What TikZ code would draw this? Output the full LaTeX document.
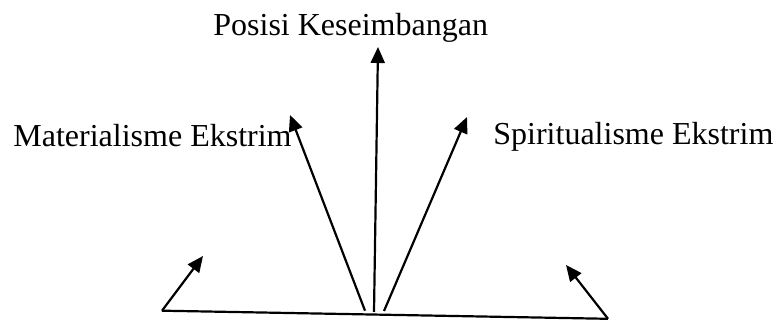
\documentclass[tikz,border=0pt]{standalone}
\usepackage{fontspec}
\setmainfont{Liberation Serif}
\usepackage{tikz}
\usetikzlibrary{arrows.meta,positioning}
\usepackage{xcolor}
\definecolor{inkblack}{RGB}{0,0,0}
\tikzset{
    caption/.style={
        anchor=base west,inner sep=0pt,text=inkblack,
        font=\fontsize{16pt}{19pt}\selectfont
    },
    pointer/.style={
        -{Triangle[length=8pt,width=7pt]},line width=1.1pt,draw=inkblack
    },
    baseline/.style={
        line width=1.1pt,draw=inkblack
    }
}
\begin{document}
\begin{tikzpicture}[x=0.5pt,y=0.5pt]
\useasboundingbox (0,0) rectangle (776,320);

% labels
\node[caption] (posisi) at (213,284) {Posisi Keseimbangan};
\node[caption] (materialisme) at (13,173.3) {Materialisme Ekstrim};
\node[caption] (spiritualisme) at (493,175) {Spiritualisme Ekstrim};

% base line
\coordinate (kiri) at (162,9.3);
\coordinate (kanan) at (608,1.2);
\draw[baseline] (kiri) -- (kanan);

% feet and tips
\coordinate (kakiA) at (365,9.3);
\coordinate (kakiB) at (374,8);
\coordinate (kakiC) at (384,9);
\coordinate (ujungA) at (290,205);
\coordinate (ujungB) at (378,273);
\coordinate (ujungC) at (467,203);
\coordinate (ujungKiri) at (203,64);
\coordinate (ujungKanan) at (566,55);

\draw[pointer] (kakiA) -- (ujungA);
\draw[pointer] (kakiB) -- (ujungB);
\draw[pointer] (kakiC) -- (ujungC);
\draw[pointer] (kiri) -- (ujungKiri);
\draw[pointer] (kanan) -- (ujungKanan);

\end{tikzpicture}
\end{document}
